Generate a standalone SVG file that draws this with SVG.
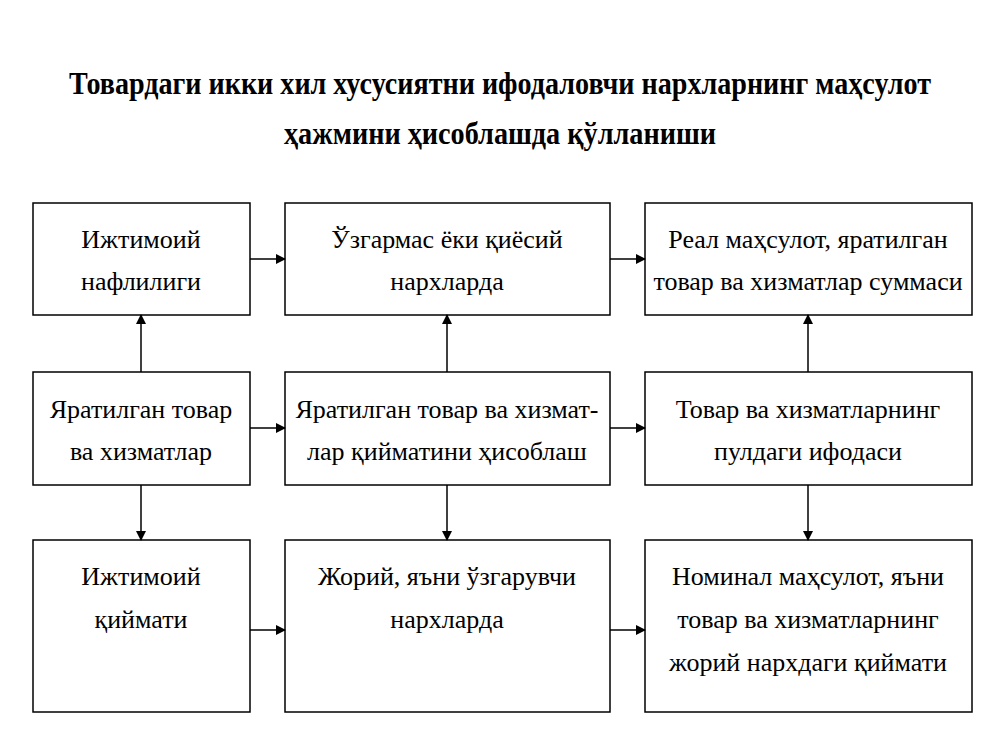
<svg xmlns="http://www.w3.org/2000/svg" width="1000" height="750" viewBox="0 0 1000 750">
<style>
.b{fill:#fff;stroke:#000;stroke-width:1.5}
.t{font-family:"Liberation Serif",serif;font-size:26px;text-anchor:middle;fill:#000}
.h{font-family:"Liberation Serif",serif;font-size:31px;font-weight:bold;text-anchor:middle;fill:#000}
.c{stroke:#000;stroke-width:1.5;fill:none;marker-end:url(#a)}
</style>
<defs><marker id="a" markerWidth="10" markerHeight="10" refX="9" refY="5" orient="auto" markerUnits="userSpaceOnUse"><path d="M0,0 L10,5 L0,10 z" fill="#000"/></marker></defs>
<rect width="1000" height="750" fill="#fff"/>
<text class="h" x="500" y="94" textLength="862" lengthAdjust="spacingAndGlyphs">Товардаги икки хил хусусиятни ифодаловчи нархларнинг маҳсулот</text>
<text class="h" x="500" y="144" textLength="432" lengthAdjust="spacingAndGlyphs">ҳажмини ҳисоблашда қўлланиши</text>
<g id="n1"><rect class="b" x="33" y="203" width="217" height="112"/><text class="t" x="141" y="248">Ижтимоий</text><text class="t" x="141" y="290">нафлилиги</text></g>
<g id="n2"><rect class="b" x="285" y="203" width="325" height="112"/><text class="t" x="447" y="248">Ўзгармас ёки қиёсий</text><text class="t" x="447" y="290">нархларда</text></g>
<g id="n3"><rect class="b" x="645" y="203" width="327" height="112"/><text class="t" x="808" y="248">Реал маҳсулот, яратилган</text><text class="t" x="808" y="290">товар ва хизматлар суммаси</text></g>
<g id="n4"><rect class="b" x="33" y="372" width="217" height="113"/><text class="t" x="141" y="418">Яратилган товар</text><text class="t" x="141" y="460">ва хизматлар</text></g>
<g id="n5"><rect class="b" x="285" y="372" width="325" height="113"/><text class="t" x="447" y="418">Яратилган товар ва хизмат-</text><text class="t" x="447" y="460">лар қийматини ҳисоблаш</text></g>
<g id="n6"><rect class="b" x="645" y="372" width="327" height="113"/><text class="t" x="808" y="418">Товар ва хизматларнинг</text><text class="t" x="808" y="460">пулдаги ифодаси</text></g>
<g id="n7"><rect class="b" x="33" y="540" width="217" height="172"/><text class="t" x="141" y="585">Ижтимоий</text><text class="t" x="141" y="628">қиймати</text></g>
<g id="n8"><rect class="b" x="285" y="540" width="325" height="172"/><text class="t" x="447" y="585">Жорий, яъни ўзгарувчи</text><text class="t" x="447" y="628">нархларда</text></g>
<g id="n9"><rect class="b" x="645" y="540" width="327" height="172"/><text class="t" x="808" y="585">Номинал маҳсулот, яъни</text><text class="t" x="808" y="628">товар ва хизматларнинг</text><text class="t" x="808" y="671">жорий нархдаги қиймати</text></g>
<g id="connectors">
<path class="c" d="M250,259H285"/><path class="c" d="M610,259H645"/>
<path class="c" d="M250,428H285"/><path class="c" d="M610,428H645"/>
<path class="c" d="M250,630H285"/><path class="c" d="M610,630H645"/>
<path class="c" d="M141,372V315"/><path class="c" d="M141,485V540"/>
<path class="c" d="M447,372V315"/><path class="c" d="M447,485V540"/>
<path class="c" d="M808,372V315"/><path class="c" d="M808,485V540"/>
</g>
</svg>
